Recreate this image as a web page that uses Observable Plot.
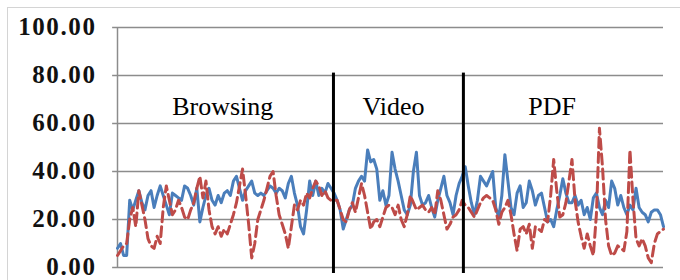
<!DOCTYPE html>
<html>
<head>
<meta charset="utf-8">
<script src="https://cdn.jsdelivr.net/npm/d3@7"></script>
<script src="https://cdn.jsdelivr.net/npm/@observablehq/plot@0.6"></script>
<style>
  html, body { margin: 0; padding: 0; background: #fff; }
  #wrap { position: relative; width: 680px; height: 280px; overflow: hidden; }
  #frame { position: absolute; left: 7px; top: 7px; width: 700px; height: 300px; border: 1px solid #d4d4d4; box-sizing: border-box; }
  #chart { position: absolute; left: 0; top: 0; }
</style>
</head>
<body>
<div id="wrap"><div id="frame"></div><div id="chart"></div></div>
<script>
// Sample values (one sample per step)
const blueSeries = [
  // Browsing
  8,10,5,5,28,24,28,32,27,24, 30,32,25,30,34,30,26,22,31,30,
  29,28,34,33,30,26,33,19,25,30, 33,28,26,30,27,31,32,30,36,38,
  33,28,32,34,36,31,30,31,30,32, 34,33,31,33,32,29,35,38,31,26,
  17,14,24,36,30,36,30,33,31,35, 33,31,
  // Video
  28,24,16,20,24,26,33,36,38,36, 49,44,45,41,28,32,26,30,48,41,
  36,30,24,22,26,40,48,30,26,27, 30,25,21,28,33,38,30,27,22,30,
  35,38,42,
  // PDF
  34,27,22,28,38,36,34,37,40,25, 21,30,47,36,25,22,31,34,25,27,
  36,32,26,30,31,25,19,20,17,24, 30,37,31,27,27,30,26,28,22,25,
  20,29,31,25,22,28,25,36,33,26, 30,25,22,26,24,33,25,23,22,19,
  23,24,24,22,17
];
const redSeries = [
  // Browsing
  5,7,9,10,20,25,17,32,26,20, 12,9,8,13,10,25,34,28,22,24,
  28,25,21,20,24,27,33,38,29,36, 24,17,14,17,13,16,14,18,22,27,
  34,41,30,18,4,10,20,24,28,33, 38,40,30,22,18,14,8,17,26,24,
  28,26,31,29,33,36,34,30,32,29, 28,28,
  // Video
  28,24,20,19,24,27,23,29,35,30, 23,16,19,20,17,21,25,26,25,22,
  26,20,17,22,30,27,24,25,26,24, 23,25,22,32,28,22,16,18,21,22,
  24,28,26,
  // PDF
  25,23,21,24,27,29,30,29,28,24, 18,23,25,28,22,14,7,16,17,14,
  18,8,17,16,15,20,19,30,45,32, 21,22,27,36,45,28,19,13,8,14,
  9,5,22,58,42,20,9,5,6,9, 8,7,15,49,28,12,9,12,9,4,
  2,10,14,15,16
];
const phaseBoundaries = [70.8, 113.4];
const phaseNames = ["Browsing", "Video", "PDF"];
const phaseLabelX = [34.5, 90.5, 142.5];
const phaseLabelY = [67, 67, 67];
const yTicks = [0, 20, 40, 60, 80, 100];

const blue = blueSeries.map((v, i) => ({i, v}));
const red = redSeries.map((v, i) => ({i, v}));
const labels = phaseNames.map((t, k) => ({t, x: phaseLabelX[k], y: phaseLabelY[k]}));

const chart = Plot.plot({
  width: 680,
  height: 280,
  marginLeft: 117,
  marginRight: 17,
  marginTop: 27,
  marginBottom: 13,
  x: {domain: [0, blueSeries.length - 1], axis: null},
  y: {domain: [0, 100], axis: null},
  style: {background: "transparent", overflow: "visible"},
  marks: [
    Plot.ruleY(yTicks, {x1: -1.6, x2: blueSeries.length - 1, stroke: "#8c8c8c", strokeWidth: 1.5}),
    Plot.ruleX([0], {y1: 0, y2: 100, stroke: "#8c8c8c", strokeWidth: 1.5}),
    Plot.text(yTicks, {x: 0, y: d => d, text: d => d.toFixed(2), dx: -21, dy: -1, textAnchor: "end",
      fontFamily: "Liberation Serif", fontWeight: "bold", fontSize: 25, fill: "#111"}),
    Plot.lineY(blue, {x: "i", y: "v", stroke: "#4a7ebb", strokeWidth: 3, strokeLinejoin: "round"}),
    Plot.lineY(red, {x: "i", y: "v", stroke: "#be4b48", strokeWidth: 3, strokeDasharray: "10,5"}),
    Plot.ruleX(phaseBoundaries, {y1: -2.5, y2: 81, stroke: "#000", strokeWidth: 3, clip: false}),
    Plot.text(labels, {x: "x", y: "y", text: "t", fontFamily: "Liberation Serif", fontSize: 26, fill: "#000"})
  ]
});
d3.select(chart).selectAll("text").filter(function() { return /\d\.\d\d/.test(this.textContent); })
  .style("letter-spacing", "1.6px");
document.getElementById("chart").appendChild(chart);
</script>
</body>
</html>
